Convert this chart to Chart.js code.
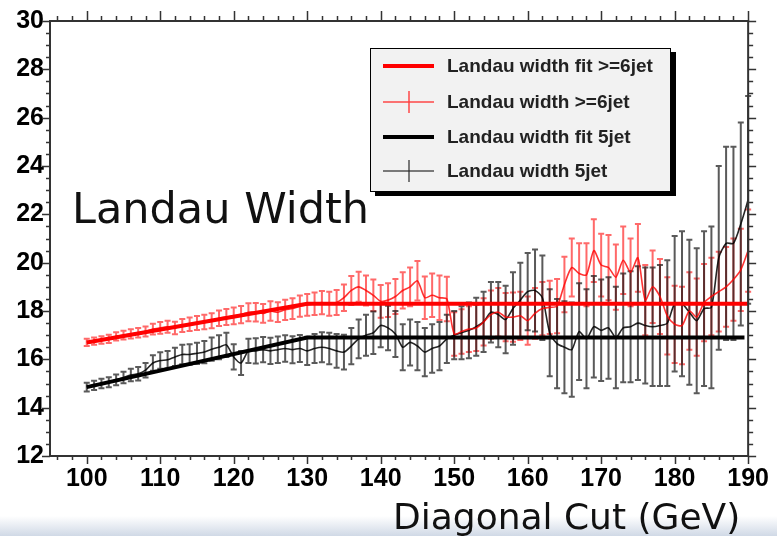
<!DOCTYPE html>
<html>
<head>
<meta charset="utf-8">
<script src="https://cdn.jsdelivr.net/npm/chart.js@4.4.1/dist/chart.umd.min.js"></script>
<style>
  body { margin: 0; background: #fff; }
  #wrap { position: relative; width: 777px; height: 536px; overflow: hidden; }
  #band { position: absolute; left: 0; top: 516px; width: 777px; height: 20px;
          background: linear-gradient(to bottom, rgba(214,222,234,0), #d0d9e6); }
  canvas { position: absolute; left: 0; top: 0; }
  .title { position: absolute; font-family: "DejaVu Sans", sans-serif; color: #111; white-space: nowrap; }
  #ytitle { left: 72px; top: 187px; font-size: 43px; line-height: 43px; }
  #xtitle { left: 393px; top: 499px; font-size: 36px; line-height: 36px; }
  #legend { position: absolute; left: 370px; top: 48px; width: 299px; height: 142px;
            background: #f2f2f2; border: 1px solid #000; box-shadow: 5px 4px 0 #000; }
  .row { position: absolute; left: 0; width: 100%; height: 0; }
  .sample { position: absolute; left: 12px; width: 51px; }
  .tick { position: absolute; left: 37px; width: 2px; height: 22px; top: -11px; }
  .label { position: absolute; left: 76px; top: -12px; font: bold 19px "Liberation Sans", Arial, sans-serif;
           color: #222; white-space: nowrap; line-height: 24px; }
</style>
</head>
<body>
<div id="wrap">
  <div id="band"></div>
  <canvas id="plot" width="777" height="536"></canvas>
  <div class="title" id="ytitle">Landau Width</div>
  <div class="title" id="xtitle">Diagonal Cut (GeV)</div>
  <div id="legend"></div>
</div>
<script>
// diagonal cut values (GeV)
const cuts = [100, 101, 102, 103, 104, 105, 106, 107, 108, 109,
  110, 111, 112, 113, 114, 115, 116, 117, 118, 119,
  120, 121, 122, 123, 124, 125, 126, 127, 128, 129,
  130, 131, 132, 133, 134, 135, 136, 137, 138, 139,
  140, 141, 142, 143, 144, 145, 146, 147, 148, 149,
  150, 151, 152, 153, 154, 155, 156, 157, 158, 159,
  160, 161, 162, 163, 164, 165, 166, 167, 168, 169,
  170, 171, 172, 173, 174, 175, 176, 177, 178, 179,
  180, 181, 182, 183, 184, 185, 186, 187, 188, 189, 190];

// Landau width >=6jet
const width6 = [16.70, 16.75, 16.80, 16.85, 16.95, 17.00, 17.05, 17.10, 17.15, 17.25,
  17.30, 17.35, 17.30, 17.40, 17.45, 17.50, 17.55, 17.60, 17.70, 17.75,
  17.80, 17.85, 17.95, 17.95, 17.90, 18.00, 17.95, 18.05, 18.10, 18.20,
  18.25, 18.30, 18.35, 18.30, 18.35, 18.55, 18.85, 19.00, 18.85, 18.65,
  18.40, 18.45, 18.60, 18.85, 19.00, 19.25, 18.55, 18.65, 18.55, 18.50,
  17.05, 17.15, 17.25, 17.30, 17.55, 17.85, 17.95, 17.75, 17.75, 17.80,
  17.60, 17.90, 18.10, 18.15, 18.20, 19.10, 19.80, 19.55, 19.50, 20.50,
  19.90, 19.80, 19.40, 20.10, 19.60, 20.20, 18.45, 19.00, 18.60, 17.80,
  17.45, 17.40, 18.00, 17.75, 18.35, 18.60, 18.80, 19.00, 19.30, 19.70, 20.50];
const err6 = [0.15, 0.15, 0.16, 0.17, 0.17, 0.18, 0.19, 0.20, 0.21, 0.22,
  0.24, 0.25, 0.26, 0.27, 0.28, 0.29, 0.30, 0.31, 0.32, 0.33,
  0.35, 0.36, 0.37, 0.38, 0.39, 0.40, 0.41, 0.42, 0.43, 0.44,
  0.45, 0.47, 0.48, 0.50, 0.52, 0.55, 0.60, 0.62, 0.62, 0.65,
  0.68, 0.70, 0.72, 0.75, 0.80, 0.82, 0.88, 0.90, 0.92, 0.92,
  0.90, 0.92, 0.95, 0.95, 0.98, 1.00, 1.00, 1.00, 1.02, 1.00,
  1.00, 1.05, 1.10, 1.10, 1.12, 1.15, 1.20, 1.25, 1.30, 1.30,
  1.30, 1.35, 1.35, 1.40, 1.40, 1.40, 1.45, 1.50, 1.55, 1.60,
  1.60, 1.60, 1.60, 1.60, 1.60, 1.60, 1.65, 1.65, 1.70, 1.70, 1.70];

// Landau width 5jet
const width5 = [14.85, 14.92, 15.00, 15.05, 15.15, 15.25, 15.35, 15.40, 15.55, 15.85,
  15.95, 15.98, 16.10, 16.20, 16.20, 16.25, 16.30, 16.42, 16.50, 16.60,
  16.10, 15.85, 16.35, 16.35, 16.40, 16.35, 16.40, 16.45, 16.40, 16.45,
  16.35, 16.45, 16.50, 16.45, 16.35, 16.30, 16.55, 16.85, 17.00, 17.10,
  17.40, 17.30, 17.05, 16.50, 16.70, 16.55, 16.30, 16.45, 16.55, 16.85,
  17.00, 17.10, 17.20, 17.35, 17.55, 17.95, 17.85, 17.65, 18.10, 18.45,
  18.80, 18.85, 18.55, 17.10, 16.65, 16.50, 16.40, 17.15, 16.85, 17.35,
  17.20, 17.30, 16.90, 17.30, 17.35, 17.50, 17.40, 17.35, 17.40, 17.50,
  18.30, 18.30, 17.95, 17.60, 18.10, 18.15, 20.20, 20.80, 20.80, 21.60, 22.60];
const err5 = [0.18, 0.19, 0.20, 0.21, 0.22, 0.24, 0.26, 0.28, 0.30, 0.32,
  0.34, 0.36, 0.38, 0.40, 0.42, 0.44, 0.46, 0.48, 0.50, 0.50,
  0.52, 0.50, 0.50, 0.52, 0.52, 0.54, 0.55, 0.55, 0.56, 0.56,
  0.58, 0.60, 0.62, 0.65, 0.70, 0.72, 0.75, 0.80, 0.85, 0.88,
  0.90, 0.92, 0.95, 0.95, 0.95, 1.00, 1.00, 1.00, 1.00, 1.00,
  1.00, 1.10, 1.15, 1.20, 1.25, 1.25, 1.35, 1.40, 1.50, 1.55,
  1.60, 1.70, 1.75, 1.80, 1.85, 1.90, 1.95, 2.00, 2.05, 2.10,
  2.10, 2.10, 2.10, 2.25, 2.30, 2.35, 2.40, 2.45, 2.50, 2.60,
  2.80, 3.00, 3.00, 3.00, 3.20, 3.35, 3.80, 4.00, 4.00, 4.20, 4.30];

// fits: rising line, then constant
const fitX6 = [100, 130, 190];
const fitY6 = [16.70, 18.30, 18.30];
const fitX5 = [100, 130, 189.5];
const fitY5 = [14.85, 16.90, 16.90];

const xTicks = [100, 110, 120, 130, 140, 150, 160, 170, 180, 190];
const yTicks = [12, 14, 16, 18, 20, 22, 24, 26, 28, 30];

const legendLabels = ["Landau width fit >=6jet", "Landau width >=6jet",
  "Landau width fit 5jet", "Landau width 5jet"];

function pts(xs, ys) {
  return xs.map((v, i) => ({ x: v, y: ys[i] }));
}

const errorBars = {
  id: "errorBars",
  beforeDatasetsDraw(chart) {
    const { ctx } = chart;
    const x = chart.scales.x, y = chart.scales.y;
    ctx.save();
    chart.data.datasets.forEach(ds => {
      if (!ds.errors) return;
      ctx.strokeStyle = ds.errorColor;
      ctx.lineWidth = ds.errorWidth;
      ds.data.forEach((p, i) => {
        const px = x.getPixelForValue(p.x);
        const top = y.getPixelForValue(p.y + ds.errors[i]);
        const bot = y.getPixelForValue(p.y - ds.errors[i]);
        ctx.beginPath();
        ctx.moveTo(px, top); ctx.lineTo(px, bot);
        ctx.moveTo(px - 3, top); ctx.lineTo(px + 3, top);
        ctx.moveTo(px - 3, bot); ctx.lineTo(px + 3, bot);
        ctx.stroke();
      });
    });
    ctx.restore();
  }
};

// ROOT style frame with outward ticks on all four sides
const frame = {
  id: "frame",
  afterDraw(chart) {
    const { ctx, chartArea: a } = chart;
    const x = chart.scales.x, y = chart.scales.y;
    ctx.save();
    ctx.strokeStyle = "#333";
    ctx.lineWidth = 1.5;
    ctx.beginPath();
    for (let v = 96; v <= 190.01; v += 2) {
      const px = Math.round(x.getPixelForValue(v)) + 0.5;
      const major = v % 10 === 0;
      ctx.moveTo(px, a.bottom); ctx.lineTo(px, a.bottom + (major ? 8 : 4));
      ctx.moveTo(px, a.top); ctx.lineTo(px, a.top - (major ? 10 : 5));
    }
    for (let v = 12; v <= 30.01; v += 0.5) {
      const py = Math.round(y.getPixelForValue(v)) + 0.5;
      const major = v % 2 === 0;
      ctx.moveTo(a.left, py); ctx.lineTo(a.left - (major ? 8 : 4), py);
      ctx.moveTo(a.right, py); ctx.lineTo(a.right + (major ? 8 : 5), py);
    }
    ctx.stroke();
    ctx.lineWidth = 2;
    ctx.strokeRect(a.left, a.top, a.right - a.left, a.bottom - a.top);
    ctx.restore();
  }
};

const tickFont = { family: "'Liberation Sans', Arial, sans-serif", size: 25, weight: "bold" };

new Chart(document.getElementById("plot"), {
  type: "line",
  data: {
    datasets: [
      { label: legendLabels[0], data: pts(fitX6, fitY6), borderColor: "#ff0000", borderWidth: 4,
        pointRadius: 0, tension: 0 },
      { label: legendLabels[2], data: pts(fitX5, fitY5), borderColor: "#000000", borderWidth: 4,
        pointRadius: 0, tension: 0 },
      { label: legendLabels[1], data: pts(cuts, width6), borderColor: "rgba(255,0,0,0.8)", borderWidth: 1.6,
        pointRadius: 0, tension: 0.25, errors: err6, errorColor: "rgba(255,25,25,0.65)", errorWidth: 2 },
      { label: legendLabels[3], data: pts(cuts, width5), borderColor: "rgba(0,0,0,0.85)", borderWidth: 1.6,
        pointRadius: 0, tension: 0.25, errors: err5, errorColor: "rgba(20,20,20,0.7)", errorWidth: 2 }
    ]
  },
  options: {
    responsive: false,
    devicePixelRatio: 1,
    animation: false,
    layout: { padding: { top: 20, right: 26, left: 0, bottom: 0 } },
    plugins: { legend: { display: false }, tooltip: { enabled: false } },
    scales: {
      x: {
        type: "linear", min: 95, max: 190,
        afterBuildTicks: s => { s.ticks = xTicks.map(v => ({ value: v })); },
        afterFit: s => { s.height = 80; },
        grid: { display: false, drawTicks: false },
        border: { display: false },
        ticks: { font: tickFont, color: "#000", padding: 8, maxRotation: 0, autoSkip: false }
      },
      y: {
        type: "linear", min: 12, max: 30,
        afterBuildTicks: s => { s.ticks = yTicks.map(v => ({ value: v })); },
        afterFit: s => { s.width = 50; },
        grid: { display: false, drawTicks: false },
        border: { display: false },
        ticks: { font: tickFont, color: "#000", padding: 6 }
      }
    }
  },
  plugins: [errorBars, frame]
});

// legend box in ROOT style
const legendStyles = [
  { color: "#ff0000", thick: 4, tick: false },
  { color: "rgba(255,60,60,0.7)", thick: 2, tick: true },
  { color: "#000000", thick: 4, tick: false },
  { color: "rgba(40,40,40,0.6)", thick: 2, tick: true }
];
const rowTops = [17, 53, 88, 122];
const legend = document.getElementById("legend");
legendLabels.forEach((txt, i) => {
  const st = legendStyles[i];
  const row = document.createElement("div");
  row.className = "row";
  row.style.top = rowTops[i] + "px";
  const line = document.createElement("div");
  line.className = "sample";
  line.style.height = st.thick + "px";
  line.style.top = (-st.thick / 2) + "px";
  line.style.background = st.color;
  row.appendChild(line);
  if (st.tick) {
    const t = document.createElement("div");
    t.className = "tick";
    t.style.background = st.color;
    row.appendChild(t);
  }
  const lab = document.createElement("div");
  lab.className = "label";
  lab.textContent = txt;
  row.appendChild(lab);
  legend.appendChild(row);
});
</script>
</body>
</html>
